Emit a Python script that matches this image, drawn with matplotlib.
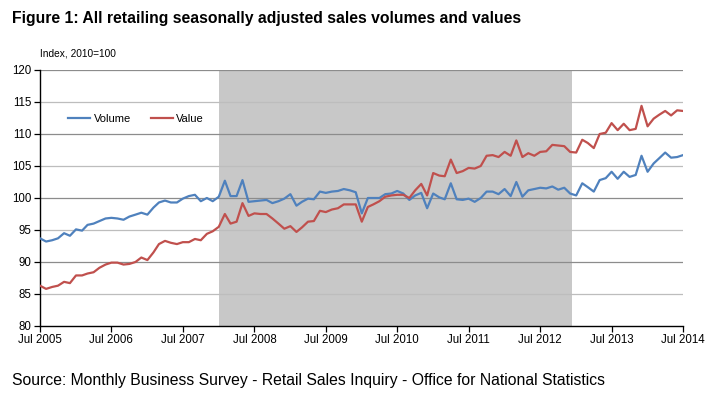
import matplotlib
matplotlib.use("Agg")
import matplotlib.pyplot as plt
import pandas as pd

start_month = "2005-07-01"
n_months = 109

volume = [
    93.7, 93.2, 93.4, 93.7, 94.5, 94.1,
    95.1, 94.9, 95.8, 96.0, 96.4, 96.8, 96.9, 96.8, 96.6, 97.1, 97.4, 97.7,
    97.4, 98.5, 99.3, 99.6, 99.3, 99.3, 99.9, 100.3, 100.5, 99.5, 100.0, 99.5,
    100.2, 102.7, 100.3, 100.3, 102.8, 99.4, 99.5, 99.6, 99.7, 99.2, 99.5, 99.9,
    100.6, 98.8, 99.4, 99.9, 99.8, 101.0, 100.8, 101.0, 101.1, 101.4, 101.2, 100.9,
    97.6, 100.0, 100.0, 100.0, 100.6, 100.7, 101.1, 100.7, 99.7, 100.4, 100.8, 98.4,
    100.7, 100.1, 99.8, 102.3, 99.8, 99.7, 99.9, 99.4, 100.0, 101.0, 101.0, 100.6,
    101.4, 100.3, 102.5, 100.2, 101.2, 101.4, 101.6, 101.5, 101.8, 101.3, 101.6, 100.7,
    100.4, 102.3, 101.7, 101.0, 102.8, 103.1, 104.1, 103.0, 104.1, 103.3, 103.6, 106.6,
    104.1, 105.4, 106.2, 107.1, 106.3, 106.4, 106.7,
]

value = [
    86.3, 85.8, 86.1, 86.3, 86.9, 86.7,
    87.9, 87.9, 88.2, 88.4, 89.1, 89.6, 89.9, 89.9, 89.6, 89.7, 90.0, 90.7,
    90.3, 91.5, 92.8, 93.3, 93.0, 92.8, 93.1, 93.1, 93.6, 93.4, 94.4, 94.8,
    95.5, 97.5, 96.0, 96.3, 99.2, 97.2, 97.6, 97.5, 97.5, 96.8, 96.0, 95.2,
    95.6, 94.7, 95.4, 96.3, 96.4, 98.0, 97.8, 98.2, 98.4, 99.0, 99.0, 99.0,
    96.3, 98.6, 99.0, 99.5, 100.2, 100.4, 100.5, 100.5, 100.0, 101.2, 102.2, 100.4,
    103.9, 103.5, 103.4, 106.0, 103.9, 104.2, 104.7, 104.6, 105.0, 106.6, 106.7, 106.4,
    107.2, 106.6, 109.0, 106.4, 107.0, 106.6, 107.2, 107.3, 108.3, 108.2, 108.1, 107.2,
    107.1, 109.1, 108.6, 107.8, 110.0, 110.2, 111.7, 110.6, 111.6, 110.6, 110.8, 114.4,
    111.2, 112.4, 113.0, 113.6, 112.9, 113.7, 113.6,
]

tick_dates = ["2005-07-01", "2006-07-01", "2007-07-01", "2008-07-01", "2009-07-01",
              "2010-07-01", "2011-07-01", "2012-07-01", "2013-07-01", "2014-07-01"]
tick_labels = ["Jul 2005", "Jul 2006", "Jul 2007", "Jul 2008", "Jul 2009",
               "Jul 2010", "Jul 2011", "Jul 2012", "Jul 2013", "Jul 2014"]
y_ticks = [80, 85, 90, 95, 100, 105, 110, 115, 120]

shade_start = "2008-01-01"
shade_end = "2012-12-10"

title = "Figure 1: All retailing seasonally adjusted sales volumes and values"
y_unit = "Index, 2010=100"
source = "Source: Monthly Business Survey - Retail Sales Inquiry - Office for National Statistics"

plt.rcParams["font.family"] = ["Liberation Sans", "DejaVu Sans"]

dates = pd.date_range(start_month, periods=n_months, freq="MS")

W, H = 720, 397
fig = plt.figure(figsize=(W / 100, H / 100), dpi=100)
fig.patch.set_facecolor("white")
ax = fig.add_axes([40 / W, (H - 326) / H, 643 / W, 256 / H])

ax.axvspan(pd.Timestamp(shade_start), pd.Timestamp(shade_end), color="#c8c8c8", lw=0, zorder=0)

for yv in y_ticks[1:]:
    col = "#8c8c8c" if yv % 10 == 0 else "#bdbdbd"
    ax.axhline(yv, color=col, lw=0.9, zorder=1)

ax.plot(dates, volume, color="#4f81bd", lw=1.6, label="Volume", zorder=3)
ax.plot(dates, value, color="#c0504d", lw=1.6, label="Value", zorder=3)

ax.set_xlim(pd.Timestamp(tick_dates[0]), pd.Timestamp(tick_dates[-1]))
ax.set_ylim(80, 120)
ax.set_xticks([pd.Timestamp(d) for d in tick_dates])
ax.set_xticklabels(tick_labels, fontsize=8.3)
ax.set_yticks(y_ticks)
ax.set_yticklabels([str(v) for v in y_ticks], fontsize=8.3)
ax.tick_params(axis="both", direction="out", length=4, width=0.9, color="black", pad=2)

for s in ["top", "right"]:
    ax.spines[s].set_visible(False)
for s in ["left", "bottom"]:
    ax.spines[s].set_color("black")
    ax.spines[s].set_linewidth(1.0)
ax.set_facecolor("white")

leg = ax.legend(loc="center left", bbox_to_anchor=(0.0435, 0.81), ncol=2, frameon=False,
                fontsize=8, handlelength=2.0, handletextpad=0.3, columnspacing=1.8,
                borderaxespad=0, borderpad=0)

fig.text(12 / W, 1 - 19 / H, title, fontsize=11.3, fontweight="bold", va="center", ha="left")
fig.text(40 / W, 1 - 53 / H, y_unit, fontsize=7.3, va="center", ha="left")
fig.text(12 / W, 1 - 381 / H, source, fontsize=11.35, va="center", ha="left")

fig.savefig("out.png", dpi=100, facecolor="white")
